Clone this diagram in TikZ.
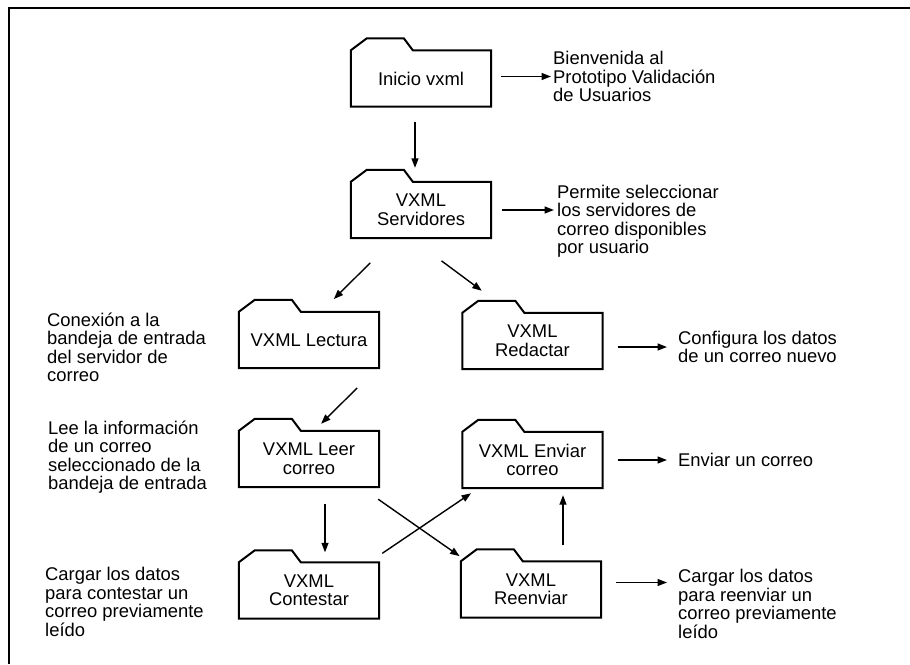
\documentclass[tikz,border=0pt]{standalone}
\usepackage{fontspec}
\setmainfont{Liberation Sans}
\usetikzlibrary{arrows.meta}
\tikzset{folder/.style={rectangle,minimum width=140pt,minimum height=56pt,inner sep=0pt,align=center}}
\tikzset{t/.style={rectangle,inner sep=0pt,align=left,anchor=west}}
\tikzset{arr/.style={line width=1.4pt,-{Triangle[length=9.5pt,width=7pt]}}}
\newcommand{\foldertab}[1]{\draw[line width=2pt] (#1.south west) -- (#1.north west)
  -- ([shift={(16pt,12pt)}]#1.north west) -- ([shift={(53pt,12pt)}]#1.north west)
  -- ([shift={(62pt,0pt)}]#1.north west) -- (#1.north east) -- (#1.south east) -- cycle;}

\begin{document}
\begin{tikzpicture}[x=1pt,y=-1pt,font=\fontsize{18.4}{18.5}\selectfont]
      \useasboundingbox (0,0) rectangle (910,664);
      \draw[line width=2.8pt] (9,664) |- (910,8);
      % folders
      \node[folder] (Ini) at (421,78.5) {Inicio vxml}; \foldertab{Ini}
      \node[folder] (Serv) at (421,210) {VXML\\Servidores}; \foldertab{Serv}
      \node[folder] (Lect) at (309,340) {VXML Lectura}; \foldertab{Lect}
      \node[folder] (Red) at (532.5,341) {VXML\\Redactar}; \foldertab{Red}
      \node[folder] (Leer) at (309,459) {VXML Leer\\correo}; \foldertab{Leer}
      \node[folder] (Env) at (532.5,460) {VXML Enviar\\correo}; \foldertab{Env}
      \node[folder] (Cont) at (309,590.5) {VXML\\Contestar}; \foldertab{Cont}
      \node[folder] (Reen) at (531,589.5) {VXML\\Reenviar}; \foldertab{Reen}
      % notes
      \node[t] (n1) at (553,76.5) {Bienvenida al\\Prototipo Validaci\'on\\de Usuarios};
      \node[t] (n2) at (557,221) {Permite seleccionar\\los servidores de\\correo disponibles\\por usuario};
      \node[t] (n3) at (47,347.5) {Conexi\'on a la\\bandeja de entrada\\del servidor de\\correo};
      \node[t] (n4) at (678,347) {Configura los datos\\de un correo nuevo};
      \node[t] (n5) at (48,457) {Lee la informaci\'on\\de un correo\\seleccionado de la\\bandeja de entrada};
      \node[t] (n6) at (678,460) {Enviar un correo};
      \node[t] (n7) at (45,602) {Cargar los datos\\para contestar un\\correo previamente\\le\'ido};
      \node[t] (n8) at (678,604) {Cargar los datos\\para reenviar un\\correo previamente\\le\'ido};
      % flow
      \draw[arr,shorten <=15pt,shorten >=14pt] ([xshift=-6]Ini.south) -- ([xshift=-6]Serv.north);
      \draw[arr,shorten <=35pt,shorten >=18pt] ([xshift=-26]Serv.south) -- ([xshift=12]Lect.north);
      \draw[arr,shorten <=38pt,shorten >=37pt] ([xshift=-10]Serv.south) -- ([xshift=-21]Red.north);
      \draw[arr,shorten <=28pt,shorten >=10pt] ([xshift=68]Lect.south) -- ([xshift=5]Leer.north);
      \draw[arr,shorten <=17pt,shorten >=10pt] ([xshift=16]Leer.south) -- ([xshift=16]Cont.north);
      \draw[arr,shorten <=21pt,shorten >=9pt] ([xshift=52]Leer.south) -- ([xshift=-64]Reen.north);
      \draw[arr,shorten <=16pt,shorten >=9pt] ([xshift=60]Cont.north) -- ([xshift=-54]Env.south);
      \draw[arr,shorten <=16pt,shorten >=7pt] ([xshift=32]Reen.north) -- ([xshift=30.5]Env.south);
      % to the notes
      \draw[arr,shorten <=10pt,shorten >=2pt] (Ini.east |- n1.west) -- (n1.west);
      \draw[arr,shorten <=11pt,shorten >=3pt] (Serv.east) -- (Serv.east -| n2.west);
      \draw[arr,shorten <=15pt,shorten >=11pt] (Red.east |- n4.west) -- (n4.west);
      \draw[arr,shorten <=15pt,shorten >=11pt] (Env.east) -- (Env.east -| n6.west);
      \draw[arr,shorten <=15pt,shorten >=11pt] ([yshift=7]Reen.east) -- ([yshift=7]Reen.east -| n8.west);
    \end{tikzpicture}
\end{document}
